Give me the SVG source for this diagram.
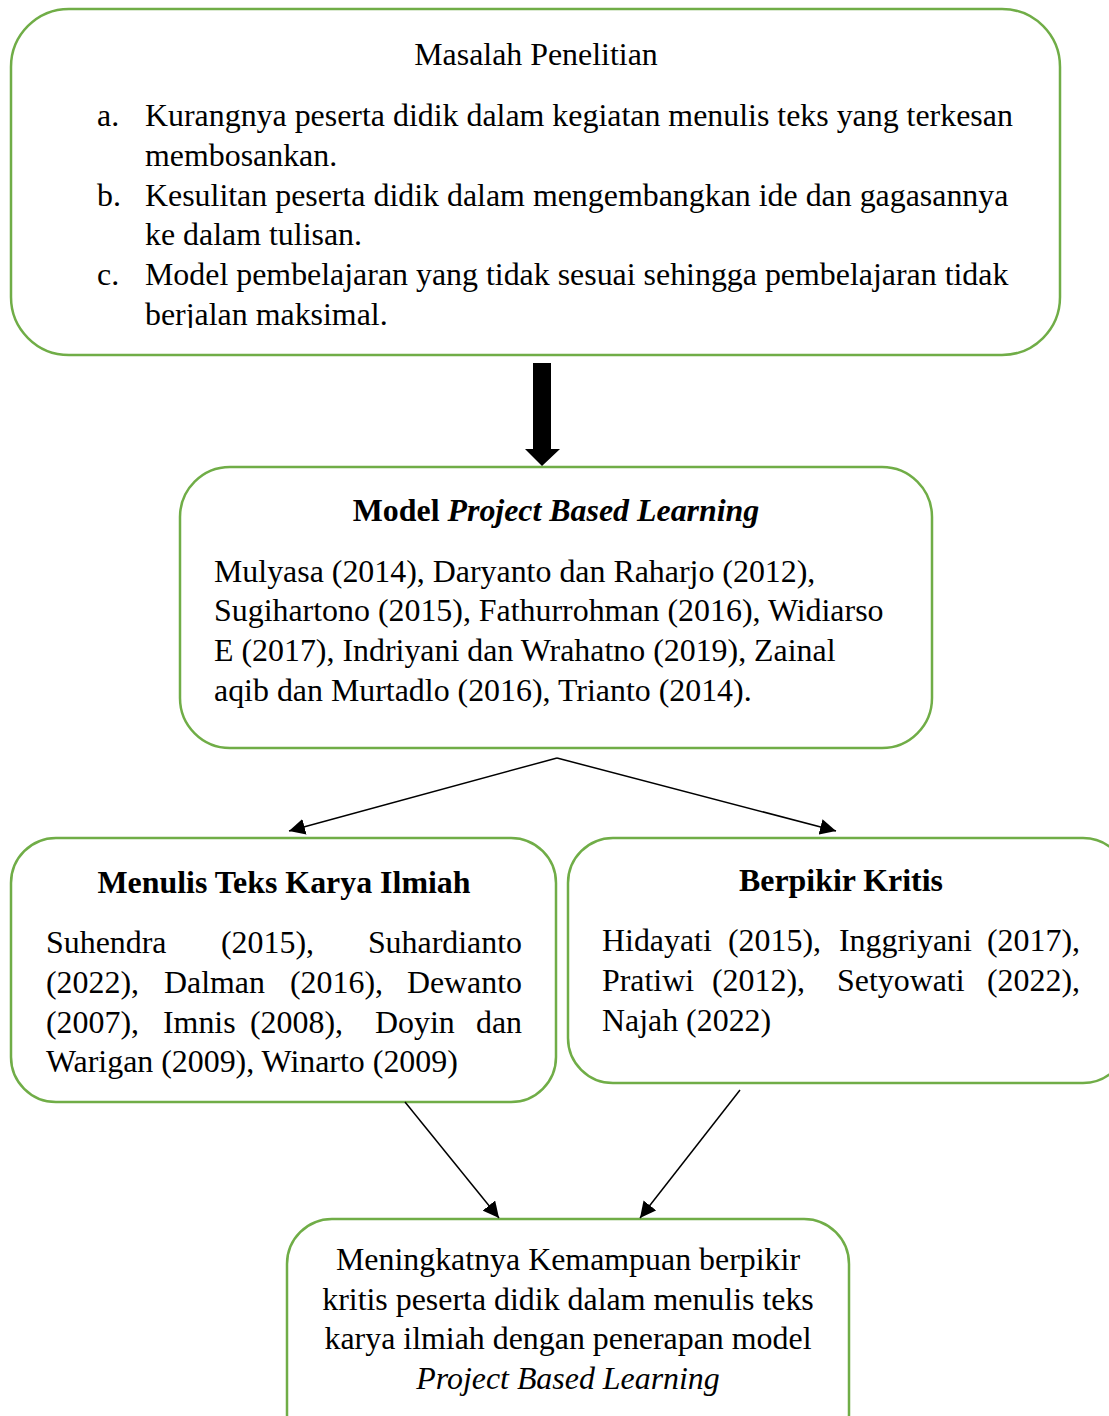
<svg xmlns="http://www.w3.org/2000/svg" width="1109" height="1416" viewBox="0 0 1109 1416">
<style>
.box{fill:#fff;stroke:#70ad47;stroke-width:2.5}
text{font-family:"Liberation Serif","Times New Roman",serif;font-size:31.9px;fill:#000}
.c{text-anchor:middle}
.e{text-anchor:end}
.b{font-weight:bold}
.i{font-style:italic}
.ln{stroke:#000;stroke-width:1.5;fill:none;marker-end:url(#ah)}
</style>
<defs>
<marker id="ah" viewBox="0 0 10 10" refX="10" refY="5" markerWidth="16" markerHeight="16" markerUnits="userSpaceOnUse" orient="auto">
<path d="M0,0 L10,5 L0,10 z" fill="#000"/>
</marker>
<clipPath id="topclip"><rect x="0" y="0" width="1109" height="328"/></clipPath>
</defs>

<g id="masalah">
<rect class="box" x="11" y="9" width="1049" height="346" rx="58"/>
<text class="c" x="536" y="65">Masalah Penelitian</text>
<g clip-path="url(#topclip)">
<text x="97" y="126">a.</text>
<text x="145" y="126">Kurangnya peserta didik dalam kegiatan menulis teks yang terkesan</text>
<text x="145" y="166">membosankan.</text>
<text x="97" y="206">b.</text>
<text x="145" y="206">Kesulitan peserta didik dalam mengembangkan ide dan gagasannya</text>
<text x="145" y="245">ke dalam tulisan.</text>
<text x="97" y="285">c.</text>
<text x="145" y="285">Model pembelajaran yang tidak sesuai sehingga pembelajaran tidak</text>
<text x="145" y="325">berjalan maksimal.</text>
</g>
</g>

<g id="model">
<rect class="box" x="180" y="467" width="752" height="281" rx="50"/>
<text class="c b" x="556" y="521">Model <tspan class="i">Project Based Learning</tspan></text>
<text x="214" y="582">Mulyasa (2014), Daryanto dan Raharjo (2012),</text>
<text x="214" y="621">Sugihartono (2015), Fathurrohman (2016), Widiarso</text>
<text x="214" y="661">E (2017), Indriyani dan Wrahatno (2019), Zainal</text>
<text x="214" y="701">aqib dan Murtadlo (2016), Trianto (2014).</text>
</g>

<g id="menulis">
<rect class="box" x="11" y="838" width="545" height="264" rx="45"/>
<text class="c b" x="284" y="893">Menulis Teks Karya Ilmiah</text>
<text x="46" y="953">Suhendra</text>
<text x="221" y="953">(2015),</text>
<text class="e" x="522" y="953">Suhardianto</text>
<text x="46" y="993">(2022),</text>
<text x="164" y="993">Dalman</text>
<text x="290" y="993">(2016),</text>
<text class="e" x="522" y="993">Dewanto</text>
<text x="46" y="1033">(2007),</text>
<text x="163" y="1033">Imnis</text>
<text x="250" y="1033">(2008),</text>
<text x="375" y="1033">Doyin</text>
<text class="e" x="522" y="1033">dan</text>
<text x="46" y="1072">Warigan (2009), Winarto (2009)</text>
</g>

<g id="berpikir">
<rect class="box" x="568" y="838" width="560" height="245" rx="45"/>
<text class="c b" x="841" y="891">Berpikir Kritis</text>
<text x="602" y="951">Hidayati</text>
<text x="728" y="951">(2015),</text>
<text x="839" y="951">Inggriyani</text>
<text class="e" x="1080" y="951">(2017),</text>
<text x="602" y="991">Pratiwi</text>
<text x="712" y="991">(2012),</text>
<text x="837" y="991">Setyowati</text>
<text class="e" x="1080" y="991">(2022),</text>
<text x="602" y="1031">Najah (2022)</text>
</g>

<g id="hasil">
<rect class="box" x="287" y="1219" width="562" height="240" rx="45"/>
<text class="c" x="568" y="1270">Meningkatnya Kemampuan berpikir</text>
<text class="c" x="568" y="1310">kritis peserta didik dalam menulis teks</text>
<text class="c" x="568" y="1349">karya ilmiah dengan penerapan model</text>
<text class="c i" x="568" y="1389">Project Based Learning</text>
</g>

<g id="connectors">
<path d="M533,363 H551 V449 H560 L542,466 L525,449 H533 Z" fill="#000"/>
<path class="ln" d="M557,758 L289,831"/>
<path class="ln" d="M557,758 L836,831"/>
<path class="ln" d="M405,1102 L499,1218"/>
<path class="ln" d="M740,1090 L640,1218"/>
</g>
</svg>
